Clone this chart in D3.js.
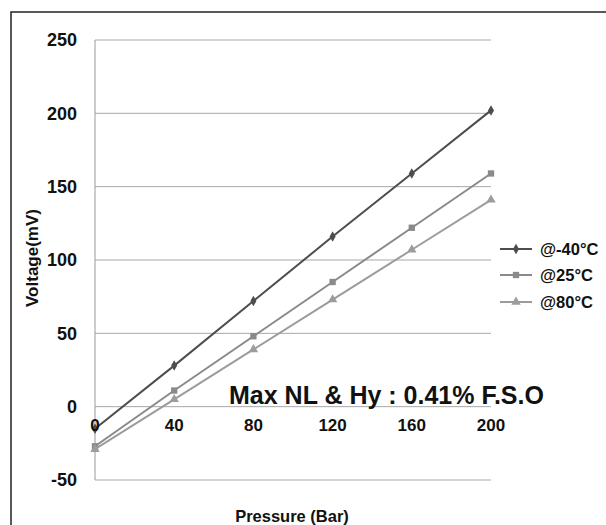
<!DOCTYPE html>
<html><head><meta charset="utf-8">
<script src="https://cdn.jsdelivr.net/npm/d3@7"></script>
<style>body{margin:0;background:#fff}svg{display:block}text{font-family:"Liberation Sans",Arial,sans-serif;font-weight:bold;fill:#111}</style>
</head><body>
<svg id="c" width="606" height="525"></svg>
<script>
const pressures = [0, 40, 80, 120, 160, 200];
const seriesNames = ["@-40°C", "@25°C", "@80°C"];
const vMinus40 = [-15, 28, 72, 116, 159, 202];
const v25 = [-27, 11, 48, 85, 122, 159];
const v80 = [-29, 5, 39, 73, 107, 141];
const yTicks = [-50, 0, 50, 100, 150, 200, 250];
const xTicks = [0, 40, 80, 120, 160, 200];

const colors = ["#4d4d4d", "#8a8a8a", "#9c9c9c"];
const symbols = [d3.symbolDiamond, d3.symbolSquare, d3.symbolTriangle];
const symSizes = [32, 40, 38];
const series = [vMinus40, v25, v80];

const svg = d3.select("#c");
svg.append("rect").attr("x", 11).attr("y", 12).attr("width", 620).attr("height", 540)
  .attr("fill", "none").attr("stroke", "#222").attr("stroke-width", 1.5);

const x = d3.scaleLinear().domain([0, 200]).range([95, 491]);
const y = d3.scaleLinear().domain([-50, 250]).range([480, 40]);

// gridlines
svg.append("g").selectAll("line").data(yTicks).join("line")
  .attr("x1", x(0)).attr("x2", x(200)).attr("y1", d => y(d)).attr("y2", d => y(d))
  .attr("stroke", "#a8a8a8").attr("stroke-width", 1);
// y axis line
svg.append("line").attr("x1", x(0)).attr("x2", x(0)).attr("y1", y(250)).attr("y2", y(-50))
  .attr("stroke", "#999").attr("stroke-width", 1);

// y tick labels
svg.append("g").selectAll("text").data(yTicks).join("text")
  .attr("x", 77).attr("y", d => y(d)).attr("dy", "0.36em").attr("text-anchor", "end")
  .attr("font-size", 18).text(d => d);

// lines
const line = d3.line().x((d, i) => x(pressures[i])).y(d => y(d));
series.forEach((s, k) => {
  svg.append("path").datum(s).attr("d", line).attr("fill", "none")
    .attr("stroke", colors[k]).attr("stroke-width", 2);
  svg.append("g").selectAll("path").data(s).join("path")
    .attr("transform", (d, i) => `translate(${x(pressures[i])},${y(d)})`)
    .attr("d", d3.symbol().type(symbols[k]).size(symSizes[k])).attr("fill", colors[k]);
});

// x tick labels
svg.append("g").selectAll("text").data(xTicks).join("text")
  .attr("x", d => x(d)).attr("y", y(0) + 24).attr("text-anchor", "middle")
  .attr("font-size", 17).text(d => d);

// annotation
svg.append("text").attr("x", 229).attr("y", 404).attr("font-size", 25)
  .text("Max NL & Hy : 0.41% F.S.O");

// axis titles
svg.append("text").attr("x", 292).attr("y", 522).attr("text-anchor", "middle")
  .attr("font-size", 16.5).text("Pressure (Bar)");
svg.append("text").attr("transform", "translate(38,258) rotate(-90)").attr("text-anchor", "middle")
  .attr("font-size", 17).text("Voltage(mV)");

// legend
const legY = [249, 275, 302];
seriesNames.forEach((n, k) => {
  const g = svg.append("g");
  g.append("line").attr("x1", 500).attr("x2", 532).attr("y1", legY[k]).attr("y2", legY[k])
    .attr("stroke", colors[k]).attr("stroke-width", 2);
  g.append("path").attr("transform", `translate(516,${legY[k]})`)
    .attr("d", d3.symbol().type(symbols[k]).size(symSizes[k])).attr("fill", colors[k]);
  g.append("text").attr("x", 540).attr("y", legY[k]).attr("dy", "0.36em")
    .attr("font-size", 16.5).text(n);
});
</script>
</body></html>
